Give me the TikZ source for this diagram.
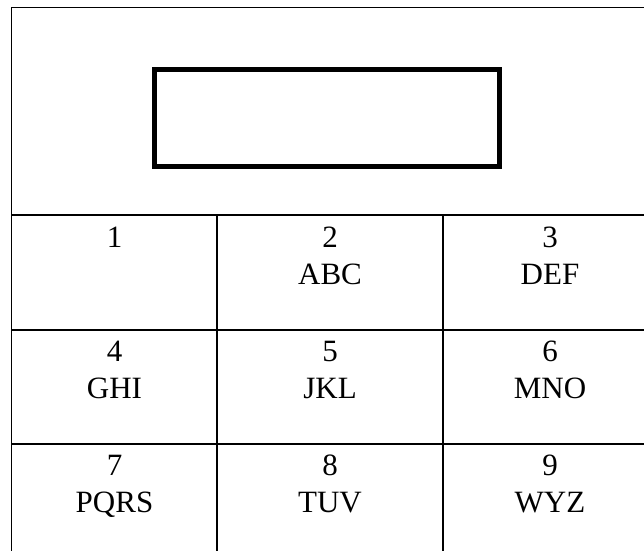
\documentclass[tikz,border=0pt]{standalone}
\usepackage{fontspec}
\setmainfont{Liberation Serif}
\usepackage{tikz}
\begin{document}
\begin{tikzpicture}
[x=1pt, y=-1pt, line width=1.5pt]
\tikzstyle{every node}=[font=\fontsize{31}{37}\selectfont, inner sep=0, anchor=base]
\tikzstyle{screen}=[draw, line width=5pt, minimum width=344.5, minimum height=97, anchor=center]
\useasboundingbox (0,0) rectangle (644,550);
\clip (0,0) rectangle (644,550);
\draw (11.5,7.5) rectangle (680,580);
\node[screen] (display) at (327,118) {};
\draw (11.5,215) -- (680,215);
\foreach \y in {330,444}
  \draw (11.5,\y) -- (680,\y);
\foreach \x in {217,443}
  \draw (\x,215) -- (\x,580);
\foreach \d/\x/\y in {1/114.5/247, 2/330/247, 3/550/247, 4/114.5/361, 5/330/361, 6/550/361, 7/114.5/475, 8/330/475, 9/550/475}
  \node (n\d) at (\x,\y) {\d};
\foreach \d/\t in {2/ABC, 3/DEF, 4/GHI, 5/JKL, 6/MNO, 7/PQRS, 8/TUV, 9/WYZ}
  \node (l\d) at ([yshift=-37pt]n\d.base) {\t};
\end{tikzpicture}
\end{document}
